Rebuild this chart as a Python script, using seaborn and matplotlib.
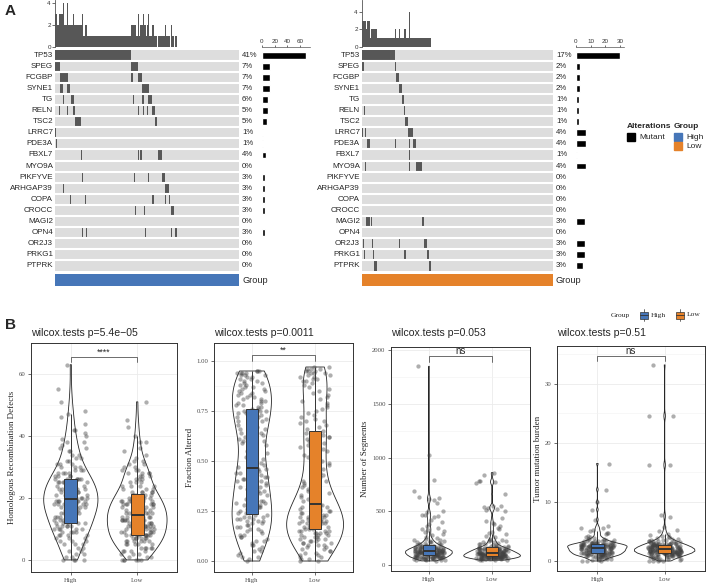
import numpy as np
import pandas as pd
import seaborn as sns
import matplotlib.pyplot as plt
from matplotlib.colors import ListedColormap
from matplotlib.patches import Rectangle
from matplotlib.lines import Line2D
from matplotlib.ticker import AutoMinorLocator, FormatStrFormatter

sns.set_style("white")
plt.rcParams["font.family"] = ["Liberation Sans", "DejaVu Sans"]
SERIF = ["Liberation Serif", "DejaVu Serif"]

# ---------------- panel A data ----------------
genes = ["TP53", "SPEG", "FCGBP", "SYNE1", "TG", "RELN", "TSC2", "LRRC7", "PDE3A",
         "FBXL7", "MYO9A", "PIKFYVE", "ARHGAP39", "COPA", "CROCC", "MAGI2", "OPN4",
         "OR2J3", "PRKG1", "PTPRK"]
n_high = 168
n_low = 176
# mutated sample spans (start, stop) per gene, in oncoplot column order
high_spans = [
    [(0, 69)],
    [(0, 5), (69, 76)],
    [(5, 12), (69, 71), (76, 79)],
    [(5, 7), (11, 14), (79, 86)],
    [(7, 8), (15, 17), (71, 72), (79, 81), (85, 89)],
    [(4, 5), (11, 12), (16, 18), (76, 77), (80, 81), (84, 85), (89, 91)],
    [(18, 24), (91, 93)],
    [(0, 1)],
    [(1, 2)],
    [(24, 25), (76, 77), (78, 79), (94, 98)],
    [],
    [(25, 26), (72, 73), (85, 86), (98, 100)],
    [(7, 8), (100, 104)],
    [(14, 15), (27, 28), (89, 90), (100, 101), (104, 105)],
    [(73, 74), (81, 82), (106, 109)],
    [],
    [(25, 26), (28, 29), (82, 83), (106, 107), (110, 111)],
    [],
    [],
    [],
]
low_spans = [
    [(0, 30)],
    [(0, 2), (30, 31)],
    [(31, 34)],
    [(34, 37)],
    [(37, 39)],
    [(2, 3), (39, 40)],
    [(40, 42)],
    [(0, 1), (3, 4), (42, 47)],
    [(5, 7), (30, 31), (43, 44), (47, 50)],
    [(43, 44)],
    [(3, 4), (43, 44), (50, 55)],
    [],
    [],
    [],
    [],
    [(4, 7), (8, 9), (55, 57)],
    [],
    [(1, 2), (9, 10), (34, 35), (57, 60)],
    [(2, 3), (10, 11), (39, 41), (60, 62)],
    [(11, 14), (62, 64)],
]

# ---------------- panel B data ----------------
hrd_high = [0, 0, 0, 0, 1, 1, 2, 2, 3, 3, 4, 4, 5, 5, 5, 6, 6, 6, 7, 7, 7, 8, 8, 8, 8, 9, 9, 9, 9,
            10, 10, 10, 10, 10, 11, 11, 11, 11, 11, 12, 12, 12,
            12, 12, 13, 13, 13, 13, 14, 14, 14, 14, 14, 15, 15, 15, 15, 15, 15, 16, 16, 16, 16, 16, 16,
            17, 17, 17, 17, 17, 17, 18, 18, 18, 18, 18, 18, 18, 19, 19, 19, 19, 19, 19,
            20, 20, 20, 20, 20, 20, 20, 21, 21, 21, 21, 21, 21, 22, 22, 22, 22, 22, 22,
            23, 23, 23, 23, 23, 23, 24, 24, 24, 24, 24, 24, 25, 25, 25, 25, 25, 26, 26, 26, 26, 26, 26,
            27, 27, 27, 27, 28, 28, 28, 28, 29, 29, 29, 30, 30, 30, 31, 31, 31, 32, 32, 33, 33, 34, 34,
            35, 35, 36, 36, 37, 38, 38, 39, 40, 41, 42, 42, 44, 46, 47, 48, 51, 55, 63]
hrd_low = [0, 0, 0, 0, 0, 0, 1, 1, 1, 2, 2, 2, 3, 3, 3, 3, 4, 4, 4, 4, 4, 5, 5, 5, 5, 5,
           6, 6, 6, 6, 6, 6, 7, 7, 7, 7, 7, 7, 8, 8, 8, 8, 8, 8,
           8, 8, 8, 9, 9, 9, 9, 9, 9, 10, 10, 10, 10, 10, 10, 11, 11, 11, 11, 11, 11, 11,
           12, 12, 12, 12, 12, 12, 12, 13, 13, 13, 13, 13, 13, 13, 13, 14, 14, 14, 14, 14, 14, 14,
           15, 15, 15, 15, 15, 15, 15, 16, 16, 16, 16, 16, 16, 16, 17, 17, 17, 17, 17, 17, 17,
           18, 18, 18, 18, 18, 18, 19, 19, 19, 19, 19, 19, 20, 20, 20, 20, 20, 20, 21, 21, 21, 21, 21,
           22, 22, 22, 22, 22, 23, 23, 23, 24, 24, 24, 24, 25, 25, 25, 26, 26, 26, 27, 27, 27,
           28, 28, 28, 28, 29, 29, 29, 30, 30, 31, 31, 32, 32, 33, 34, 35, 36, 38, 38, 40, 43, 45, 51]

frac_high = [0.00, 0.01, 0.02, 0.02, 0.03, 0.04, 0.05, 0.05, 0.06, 0.07, 0.08, 0.08, 0.09, 0.10, 0.10,
             0.11, 0.12, 0.12, 0.13, 0.13, 0.14, 0.15, 0.15, 0.16, 0.16, 0.17, 0.17, 0.18, 0.18, 0.19,
             0.19, 0.20, 0.20, 0.20, 0.21, 0.21, 0.21, 0.22, 0.22, 0.22, 0.23, 0.23,
             0.24, 0.24, 0.25, 0.25, 0.26, 0.26, 0.27, 0.27, 0.28, 0.28, 0.29, 0.29, 0.30, 0.30, 0.31,
             0.31, 0.32, 0.33, 0.33, 0.34, 0.35, 0.35, 0.36, 0.37, 0.37, 0.38, 0.38, 0.39, 0.40, 0.40,
             0.41, 0.41, 0.42, 0.42, 0.43, 0.43, 0.44, 0.44, 0.45, 0.45, 0.46, 0.46,
             0.47, 0.48, 0.49, 0.50, 0.51, 0.52, 0.53, 0.54, 0.55, 0.56, 0.57, 0.58, 0.59, 0.60, 0.60,
             0.61, 0.62, 0.63, 0.64, 0.64, 0.65, 0.66, 0.66, 0.67, 0.68, 0.68, 0.69, 0.70, 0.70, 0.71,
             0.71, 0.72, 0.72, 0.73, 0.73, 0.74, 0.74, 0.75, 0.75, 0.75, 0.76, 0.76,
             0.77, 0.77, 0.78, 0.78, 0.79, 0.79, 0.80, 0.80, 0.81, 0.81, 0.82, 0.82, 0.83, 0.83, 0.84,
             0.84, 0.85, 0.85, 0.86, 0.86, 0.87, 0.87, 0.88, 0.88, 0.89, 0.89, 0.90, 0.90, 0.91, 0.91,
             0.92, 0.92, 0.93, 0.93, 0.93, 0.94, 0.94, 0.94, 0.94, 0.95, 0.95, 0.95]
frac_low = [0.00, 0.00, 0.01, 0.01, 0.02, 0.02, 0.03, 0.03, 0.04, 0.04, 0.05, 0.05, 0.06, 0.06, 0.07,
            0.07, 0.08, 0.08, 0.08, 0.09, 0.09, 0.09, 0.10, 0.10, 0.10, 0.11, 0.11, 0.11, 0.12, 0.12,
            0.12, 0.13, 0.13, 0.13, 0.14, 0.14, 0.14, 0.14, 0.15, 0.15, 0.15, 0.15, 0.16, 0.16,
            0.16, 0.17, 0.17, 0.17, 0.18, 0.18, 0.18, 0.18, 0.19, 0.19, 0.19, 0.19, 0.20, 0.20, 0.20,
            0.20, 0.21, 0.21, 0.21, 0.21, 0.22, 0.22, 0.22, 0.22, 0.23, 0.23, 0.23, 0.23, 0.24, 0.24,
            0.24, 0.25, 0.25, 0.25, 0.26, 0.26, 0.26, 0.27, 0.27, 0.27, 0.27, 0.28, 0.28, 0.28,
            0.29, 0.30, 0.30, 0.31, 0.32, 0.32, 0.33, 0.34, 0.35, 0.35, 0.36, 0.37, 0.38, 0.39, 0.40,
            0.40, 0.41, 0.42, 0.43, 0.44, 0.45, 0.46, 0.47, 0.48, 0.49, 0.50, 0.51, 0.52, 0.53, 0.54,
            0.55, 0.56, 0.57, 0.58, 0.59, 0.60, 0.60, 0.61, 0.62, 0.62, 0.63, 0.64, 0.64, 0.65,
            0.66, 0.67, 0.68, 0.69, 0.70, 0.70, 0.71, 0.72, 0.73, 0.74, 0.75, 0.76, 0.77, 0.78, 0.79,
            0.80, 0.81, 0.82, 0.83, 0.84, 0.85, 0.86, 0.87, 0.88, 0.89, 0.90, 0.90, 0.91, 0.91, 0.92,
            0.92, 0.93, 0.93, 0.94, 0.94, 0.94, 0.95, 0.95, 0.95, 0.96, 0.96, 0.96, 0.97, 0.97]

seg_high = [38, 42, 45, 48, 50, 52, 54, 55, 57, 58, 60, 61, 62, 63, 64, 65, 66, 67, 68, 69, 70, 71,
            72, 73, 74, 75, 76, 77, 78, 79, 80, 81, 82, 83, 84, 85, 86, 88, 89, 90, 92, 94,
            95, 96, 97, 98, 99, 100, 101, 102, 103, 104, 105, 106, 107, 108, 109, 110, 111, 112, 113,
            114, 115, 116, 117, 118, 119, 120, 121, 121, 122, 123, 123, 124, 125, 125, 126, 127, 127,
            128, 128, 129, 129, 130,
            131, 132, 133, 134, 135, 136, 137, 138, 139, 140, 141, 142, 144, 145, 146, 148, 149, 150,
            151, 152, 154, 155, 156, 158, 159, 160, 161, 162, 164, 165, 166, 168, 170, 171, 172, 174,
            176, 178, 179, 181, 183, 185,
            188, 192, 195, 198, 202, 206, 210, 214, 218, 222, 226, 230, 236, 242, 250, 262, 275, 290,
            305, 315, 330, 338, 345, 360, 385, 400, 420, 445, 455, 465, 470, 495, 505, 580, 605, 615,
            625, 630, 685, 790, 1020, 1850]
seg_low = [45, 47, 49, 50, 52, 53, 55, 56, 57, 58, 59, 60, 61, 62, 62, 63, 64, 64, 65, 66, 66, 67,
           68, 68, 69, 70, 70, 71, 72, 72, 73, 74, 74, 75, 75, 76, 76, 77, 77, 78, 78, 79, 79, 80,
           81, 82, 82, 83, 84, 85, 86, 86, 87, 88, 89, 90, 90, 91, 92, 93, 94, 94, 95, 96, 97, 98,
           98, 99, 100, 101, 102, 102, 103, 104, 105, 106, 106, 107, 108, 109, 110, 110, 111, 112,
           113, 113, 114, 115,
           116, 117, 118, 119, 120, 121, 122, 123, 124, 125, 126, 127, 128, 129, 130, 131, 132, 133,
           134, 135, 136, 137, 138, 140, 141, 142, 143, 145, 146, 147, 148, 150, 151, 152, 154, 155,
           156, 158, 159, 160, 161, 162, 164, 165,
           168, 171, 174, 177, 180, 184, 188, 192, 196, 200, 205, 210, 216, 222, 228, 232, 235, 245,
           258, 270, 290, 300, 310, 335, 345, 360, 380, 395, 405, 440, 500, 515, 525, 530, 540, 545,
           550, 660, 760, 770, 780, 785, 840, 860]

tmb_high = [0.0, 0.0, 0.0, 0.1, 0.2, 0.3, 0.3, 0.4, 0.4, 0.5, 0.5, 0.6, 0.6, 0.7, 0.7, 0.7, 0.8, 0.8,
            0.8, 0.9, 0.9, 0.9, 0.9, 1.0, 1.0, 1.0, 1.0, 1.0, 1.1, 1.1, 1.1, 1.1, 1.1, 1.2, 1.2, 1.2,
            1.2, 1.2, 1.3, 1.3, 1.3, 1.3,
            1.4, 1.4, 1.4, 1.4, 1.4, 1.5, 1.5, 1.5, 1.5, 1.5, 1.6, 1.6, 1.6, 1.6, 1.6,
            1.7, 1.7, 1.7, 1.7, 1.7, 1.7, 1.8, 1.8, 1.8, 1.8, 1.8, 1.8, 1.9, 1.9, 1.9, 1.9, 1.9,
            2.0, 2.0, 2.0, 2.0, 2.0, 2.0, 2.1, 2.1, 2.1, 2.1,
            2.2, 2.2, 2.2, 2.2, 2.2, 2.2, 2.3, 2.3, 2.3, 2.3, 2.3, 2.3, 2.4, 2.4, 2.4, 2.4, 2.4, 2.4,
            2.5, 2.5, 2.5, 2.5, 2.5, 2.5, 2.6, 2.6, 2.6, 2.6, 2.6, 2.6, 2.7, 2.7, 2.7, 2.7, 2.7, 2.7,
            2.8, 2.8, 2.8, 2.8, 2.8, 2.8,
            2.9, 2.9, 2.9, 2.9, 3.0, 3.0, 3.0, 3.0, 3.1, 3.1, 3.1, 3.2, 3.2, 3.2, 3.3, 3.3, 3.4, 3.4,
            3.4, 3.5, 3.5, 3.6, 3.7, 3.7, 3.8, 3.9, 4.0, 4.1, 4.3, 4.5, 4.7, 4.8, 5.0, 5.2, 5.5, 5.6,
            6.0, 7.0, 8.7, 10.0, 12.1, 16.5]
tmb_low = [0.0, 0.0, 0.0, 0.0, 0.1, 0.2, 0.3, 0.3, 0.4, 0.4, 0.5, 0.5, 0.6, 0.6, 0.7, 0.7, 0.7,
           0.8, 0.8, 0.8, 0.9, 0.9, 0.9, 0.9, 1.0, 1.0, 1.0, 1.0, 1.0, 1.1, 1.1, 1.1, 1.1, 1.1,
           1.2, 1.2, 1.2, 1.2, 1.2, 1.3, 1.3, 1.3, 1.3, 1.3,
           1.4, 1.4, 1.4, 1.4, 1.4, 1.4, 1.4, 1.5, 1.5, 1.5, 1.5, 1.5, 1.5, 1.5,
           1.6, 1.6, 1.6, 1.6, 1.6, 1.6, 1.6, 1.7, 1.7, 1.7, 1.7, 1.7, 1.7, 1.7, 1.7,
           1.8, 1.8, 1.8, 1.8, 1.8, 1.8, 1.8, 1.8, 1.9, 1.9, 1.9, 1.9, 1.9, 1.9, 1.9,
           2.0, 2.0, 2.0, 2.0, 2.0, 2.0, 2.1, 2.1, 2.1, 2.1, 2.1, 2.1, 2.2, 2.2, 2.2, 2.2, 2.2, 2.2,
           2.3, 2.3, 2.3, 2.3, 2.3, 2.3, 2.4, 2.4, 2.4, 2.4, 2.4, 2.5, 2.5, 2.5, 2.5, 2.5,
           2.6, 2.6, 2.6, 2.6, 2.6, 2.7, 2.7, 2.7, 2.7, 2.7,
           2.8, 2.8, 2.8, 2.8, 2.8, 2.9, 2.9, 2.9, 2.9, 3.0, 3.0, 3.0, 3.0, 3.1, 3.1, 3.1,
           3.2, 3.2, 3.3, 3.3, 3.3, 3.4, 3.4, 3.5, 3.6, 3.6, 3.7, 3.8, 3.9, 4.0, 4.1, 4.2, 4.4, 4.6,
           5.0, 5.2, 5.8, 7.5, 7.7, 16.2, 16.3, 24.5, 24.6, 33.2]

groups = ["High", "Low"]
group_colors = {"High": "#4676b8", "Low": "#e5822a"}
MUT = "#575757"
BG = "#dddddd"

W, H = 708, 584
fig = plt.figure(figsize=(W / 100, H / 100), dpi=100)


def px_axes(x0, y0, x1, y1):
    return fig.add_axes([x0 / W, 1 - y1 / H, (x1 - x0) / W, (y1 - y0) / H])


def fig_xy(x, y):
    return x / W, 1 - y / H


def oncoprint(spans, n, x0, x1, bx0, bx1, bmax, tmax, bticks, gcolor):
    mat = np.zeros((len(genes), n))
    for i, sp in enumerate(spans):
        for a, b in sp:
            mat[i, a:b] = 1
    counts = mat.sum(axis=1)

    # top bar: mutations per sample
    axt = px_axes(x0, 0, x1, 47)
    axt.bar(np.arange(n) + 0.5, mat.sum(axis=0), width=1.0, color=MUT, linewidth=0)
    axt.set_xlim(0, n)
    axt.set_ylim(0, tmax)
    for s in ["top", "right", "bottom"]:
        axt.spines[s].set_visible(False)
    axt.spines["left"].set_color("#555555")
    axt.spines["left"].set_linewidth(0.6)
    axt.set_xticks([])
    axt.set_yticks([0, 2, 4])
    axt.tick_params(axis="y", left=True, length=2, width=0.5, labelsize=4.5, pad=1, colors="#333333")

    # main matrix
    ax = px_axes(x0, 50, x1, 271)
    sns.heatmap(mat, cmap=ListedColormap([BG, MUT]), vmin=0, vmax=1, cbar=False, ax=ax,
                xticklabels=False, yticklabels=genes)
    for r in range(1, len(genes)):
        ax.axhline(r, color="white", lw=1.5)
    ax.tick_params(axis="y", length=0, pad=1.5, labelsize=5.8)
    plt.setp(ax.get_yticklabels(), rotation=0)
    ax.set_xlabel("")
    ax.set_ylabel("")
    pct_x = 1 + 3 / (x1 - x0)
    for i, c in enumerate(counts):
        ax.text(pct_x, i + 0.5, f"{round(100 * c / n)}%", transform=ax.get_yaxis_transform(),
                va="center", ha="left", fontsize=5.6)

    # right bar: mutated samples per gene
    axb = px_axes(bx0, 50, bx1, 271)
    cdf = pd.DataFrame({"gene": genes, "count": counts})
    sns.barplot(data=cdf, y="gene", x="count", orient="h", color="black", saturation=1,
                width=0.62, ax=axb)
    axb.set_ylim(len(genes) - 0.5, -0.5)
    axb.set_xlim(0, bmax)
    for s in ["left", "right", "bottom"]:
        axb.spines[s].set_visible(False)
    axb.spines["top"].set_position(("outward", 2))
    axb.spines["top"].set_linewidth(0.5)
    axb.spines["top"].set_color("#555555")
    axb.xaxis.set_ticks_position("top")
    axb.set_xticks(bticks)
    axb.tick_params(axis="x", top=True, length=1.5, width=0.5, labelsize=4.5, pad=1,
                    colors="#333333")
    axb.set_yticks([])
    axb.set_xlabel("")
    axb.set_ylabel("")

    # group bar
    axg = px_axes(x0, 274, x1, 286)
    sns.heatmap(np.zeros((1, n)), cmap=ListedColormap([gcolor]), cbar=False, ax=axg,
                xticklabels=False, yticklabels=False)
    axg.text(1 + 3 / (x1 - x0), 0.5, "Group", transform=axg.transAxes, va="center",
             ha="left", fontsize=6.6)


oncoprint(high_spans, n_high, 55, 239, 262, 310, 75.8, 4.27, [0, 20, 40, 60], group_colors["High"])
oncoprint(low_spans, n_low, 362, 553, 576, 624, 32.7, 5.37, [0, 10, 20, 30], group_colors["Low"])

# panel A legend
fig.text(*fig_xy(627, 126), "Alterations", fontsize=6, fontweight="bold", va="center")
fig.text(*fig_xy(674, 126), "Group", fontsize=6, fontweight="bold", va="center")
for (x, y, c, lab) in [(627, 133, "black", "Mutant"), (674, 133, group_colors["High"], "High"),
                       (674, 142, group_colors["Low"], "Low")]:
    fx, fy = fig_xy(x, y + 8)
    fig.add_artist(Rectangle((fx, fy), 8 / W, 8 / H, color=c, transform=fig.transFigure))
    fig.text(*fig_xy(x + 12, y + 4.5), lab, fontsize=6, va="center")


# ---------------- panel B ----------------
def nrd0(v):
    v = np.asarray(v, float)
    iqr = np.subtract(*np.percentile(v, [75, 25]))
    return 0.9 * min(v.std(ddof=1), iqr / 1.34) * len(v) ** -0.2


def violin_panel(box, high, low, ylim, yticks, fmt, ylabel, title, sig, by, tip):
    ax = px_axes(*box)
    df = pd.DataFrame({"Group": ["High"] * len(high) + ["Low"] * len(low),
                       "value": list(high) + list(low)})
    bw = np.mean([nrd0(v) / np.std(v, ddof=1) for v in (high, low)])
    sns.violinplot(data=df, x="Group", y="value", order=groups, fill=False, color="#262626",
                   linecolor="#262626", linewidth=0.6, inner=None, cut=0, density_norm="area",
                   width=0.9, bw_method=bw, ax=ax)
    sns.stripplot(data=df, x="Group", y="value", order=groups, color="#404040", alpha=0.42,
                  size=3.1, jitter=0.25, linewidth=0, zorder=1.5, ax=ax)
    sns.boxplot(data=df, x="Group", y="value", hue="Group", order=groups, hue_order=groups,
                palette=group_colors, saturation=1, width=0.2, showfliers=False, showcaps=False,
                linewidth=0.7, linecolor="#333333", medianprops={"linewidth": 1.4},
                legend=False, ax=ax)
    for p in ax.patches:
        p.set_zorder(2.5)
    for ln in ax.lines:
        ln.set_zorder(2.6)
    ax.set_xlim(-0.6, 1.6)
    ax.set_ylim(*ylim)
    ax.set_yticks(yticks)
    if fmt:
        ax.yaxis.set_major_formatter(FormatStrFormatter(fmt))
    ax.yaxis.set_minor_locator(AutoMinorLocator(2))
    ax.set_axisbelow(True)
    ax.grid(axis="y", which="major", color="#ebebeb", lw=0.6)
    ax.grid(axis="y", which="minor", color="#f2f2f2", lw=0.4)
    ax.grid(axis="x", which="major", color="#ebebeb", lw=0.6)
    for s in ax.spines.values():
        s.set_color("#333333")
        s.set_linewidth(0.7)
    ax.tick_params(which="major", left=True, bottom=True, length=2.5, width=0.5,
                   colors="#333333", labelsize=4.9, pad=1.5)
    ax.tick_params(which="minor", length=0)
    for lab in ax.get_xticklabels() + ax.get_yticklabels():
        lab.set_family(SERIF)
        lab.set_color("#4d4d4d")
    ax.set_xlabel("")
    ax.set_ylabel(ylabel, family=SERIF, fontsize=6.5, labelpad=2)
    ax.plot([0, 0, 1, 1], [tip, by, by, tip], color="#555555", lw=0.6, clip_on=False)
    ax.annotate(sig, (0.5, by), xytext=(0, 0.3), textcoords="offset points", ha="center",
                va="bottom", fontsize=7 if sig == "ns" else 6.3)
    fig.text(*fig_xy(box[0], 333), title, fontsize=7.6, va="center", ha="left")
    return ax


violin_panel((31, 343, 177, 572), hrd_high, hrd_low, (-3.9, 70), [0, 20, 40, 60], None,
             "Homologous Recombination Defects", "wilcox.tests p=5.4e\u221205", "****", 65.5, 64.0)
violin_panel((214, 343, 353, 572), frac_high, frac_low, (-0.055, 1.09),
             [0, 0.25, 0.5, 0.75, 1.0], "%.2f", "Fraction Altered",
             "wilcox.tests p=0.0011", "**", 1.03, 1.0)
violin_panel((391, 347, 530, 571), seg_high, seg_low, (-56, 2030), [0, 500, 1000, 1500, 2000],
             None, "Number of Segments", "wilcox.tests p=0.053", "ns", 1945, 1890)
violin_panel((557, 346, 705, 571), tmb_high, tmb_low, (-1.7, 36.4), [0, 10, 20, 30], None,
             "Tumor mutation burden", "wilcox.tests p=0.51", "ns", 34.7, 33.8)

# panel B legend
fig.text(*fig_xy(611, 315), "Group", family=SERIF, fontsize=5.4, va="center")
for x, g in [(640, "High"), (676, "Low")]:
    fx, fy = fig_xy(x, 318.5)
    fig.add_artist(Rectangle((fx, fy), 8 / W, 7 / H, facecolor=group_colors[g],
                             edgecolor="#333333", lw=0.5, transform=fig.transFigure))
    fig.add_artist(Line2D([fx, fx + 8 / W], [1 - 315 / H] * 2, color="#333333", lw=0.6,
                          transform=fig.transFigure))
    fig.add_artist(Line2D([fx + 4 / W] * 2, [1 - 309 / H, 1 - 311.5 / H], color="#333333",
                          lw=0.5, transform=fig.transFigure))
    fig.add_artist(Line2D([fx + 4 / W] * 2, [1 - 318.5 / H, 1 - 321 / H], color="#333333",
                          lw=0.5, transform=fig.transFigure))
    fig.text(*fig_xy(x + 11, 315), g, family=SERIF, fontsize=5.4, va="center")

fig.text(*fig_xy(5, 11), "A", fontsize=11, fontweight="bold", va="center")
fig.text(*fig_xy(5, 325), "B", fontsize=11, fontweight="bold", va="center")

np.random.seed(3)
fig.savefig("out.png", dpi=100)
